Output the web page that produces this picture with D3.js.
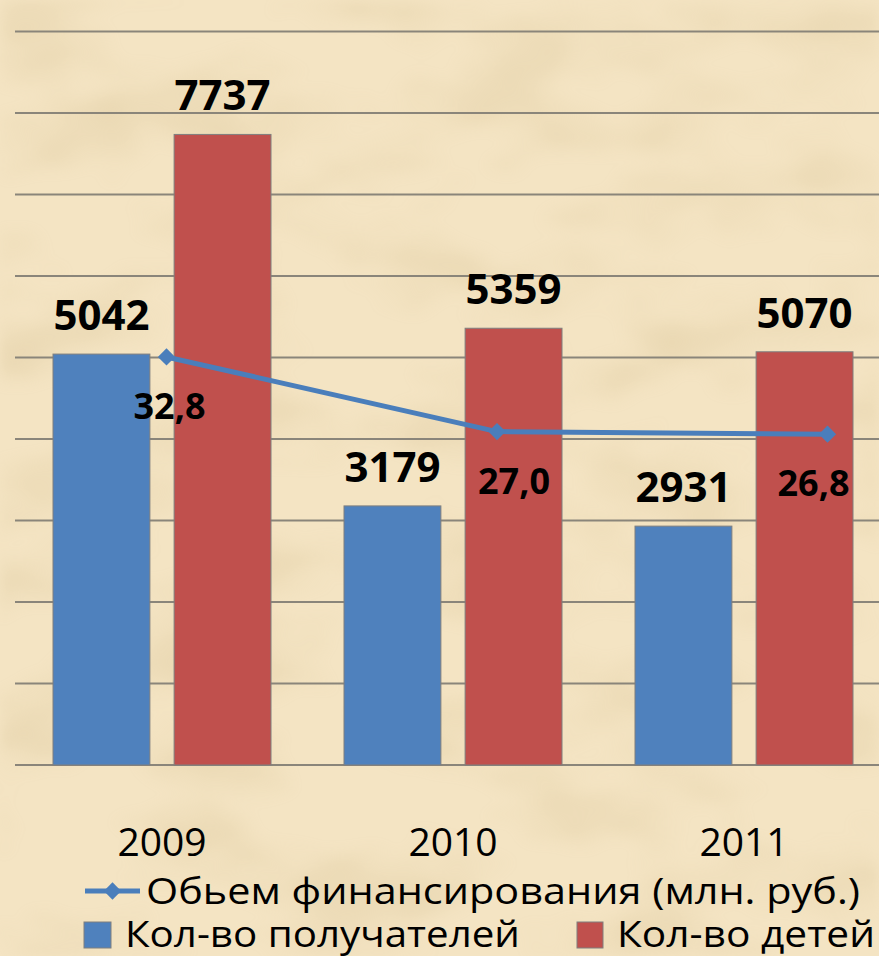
<!DOCTYPE html>
<html>
<head>
<meta charset="utf-8">
<script src="https://cdn.jsdelivr.net/npm/d3@7"></script>
<style>
  html, body { margin: 0; padding: 0; background: #f2e1bf; }
  svg { display: block; }
</style>
</head>
<body>
<svg id="chart" width="879" height="956"></svg>
<script>
// Years on the category axis
const years = ["2009", "2010", "2011"];
// Кол-во получателей (number of recipients)
const recipients = [5042, 3179, 2931];
// Кол-во детей (number of children)
const children = [7737, 5359, 5070];
// Обьем финансирования, млн. руб. (funding volume)
const funding = [32.8, 27.0, 26.8];
const fundingLabels = ["32,8", "27,0", "26,8"];
// Primary axis ticks (gridlines)
const gridTicks = [0, 1000, 2000, 3000, 4000, 5000, 6000, 7000, 8000, 9000];

const seriesNames = {
  funding: "Обьем финансирования (млн. руб.)",
  recipients: "Кол-во получателей",
  children: "Кол-во детей"
};

const W = 879, H = 956;
const BLUE = "#4f81bd", RED = "#c0504d", LINE = "#4a7ebb";
const svg = d3.select("#chart");

// ---- parchment background ----
const defs = svg.append("defs");
const f = defs.append("filter").attr("id", "paper")
  .attr("x", 0).attr("y", 0).attr("width", "100%").attr("height", "100%");
f.append("feTurbulence").attr("type", "fractalNoise")
  .attr("baseFrequency", "0.007 0.013").attr("numOctaves", 3).attr("seed", 11)
  .attr("result", "n");
f.append("feColorMatrix").attr("in", "n").attr("type", "matrix")
  .attr("values", "0 0 0 0 0.66  0 0 0 0 0.52  0 0 0 0 0.28  1.5 0 0 0 -0.66")
  .attr("result", "c");
f.append("feGaussianBlur").attr("in", "c").attr("stdDeviation", 6);

svg.append("rect").attr("width", W).attr("height", H).attr("fill", "#f4e4c3");
svg.append("rect").attr("width", W).attr("height", H).attr("filter", "url(#paper)")
  .attr("opacity", 0.5);

// ---- scales ----
const x = d3.scaleBand().domain(years).range([16.5, 889.5]);
const xInner = d3.scaleBand().domain([0, 1])
  .range([36.5, x.bandwidth() - 36.5]).paddingInner(0.2);
const y = d3.scaleLinear().domain([0, 9000]).range([765, 31.5]);

// secondary axis for the funding line
const x2 = d3.scalePoint().domain(years).range([166.5, 827.5]);
const y2 = d3.scaleLinear().domain([0, 60]).range([779.1, 6.9]);

// ---- gridlines ----
svg.append("g").selectAll("line").data(gridTicks).join("line")
  .attr("x1", 15).attr("x2", W)
  .attr("y1", d => y(d)).attr("y2", d => y(d))
  .attr("stroke", "#8a857a").attr("stroke-width", 2);

// ---- bars ----
const bars = [
  { key: "recipients", values: recipients, color: BLUE, idx: 0 },
  { key: "children", values: children, color: RED, idx: 1 }
];
const gBars = svg.append("g");
bars.forEach(s => {
  gBars.selectAll(null).data(years).join("rect")
    .attr("x", (d) => x(d) + xInner(s.idx))
    .attr("width", xInner.bandwidth())
    .attr("y", (d, i) => y(s.values[i]))
    .attr("height", (d, i) => y(0) - y(s.values[i]))
    .attr("fill", s.color)
    .attr("stroke", "#7f7f7f").attr("stroke-width", 1);
  gBars.selectAll(null).data(years).join("text")
    .attr("x", d => x(d) + xInner(s.idx) + xInner.bandwidth() / 2)
    .attr("y", (d, i) => y(s.values[i]) - 24)
    .attr("text-anchor", "middle")
    .attr("font-family", "'Open Sans', sans-serif")
    .attr("font-weight", 700).attr("font-size", 42).attr("fill", "#000")
    .text((d, i) => s.values[i]);
});

// ---- funding line ----
const lineGen = d3.line().x((d, i) => x2(years[i])).y(d => y2(d));
svg.append("path").datum(funding)
  .attr("d", lineGen).attr("fill", "none")
  .attr("stroke", LINE).attr("stroke-width", 5).attr("stroke-linejoin", "round");

const diamond = d3.symbol().type(d3.symbolDiamond2).size(190);
svg.append("g").selectAll("path").data(funding).join("path")
  .attr("d", diamond)
  .attr("transform", (d, i) => `translate(${x2(years[i])},${y2(d)})`)
  .attr("fill", LINE);

const labelNudge = [3, 17, -14];
svg.append("g").selectAll("text").data(funding).join("text")
  .attr("x", (d, i) => x2(years[i]) + labelNudge[i])
  .attr("y", d => y2(d) + 62)
  .attr("text-anchor", "middle")
  .attr("font-family", "'Open Sans', sans-serif")
  .attr("font-weight", 700).attr("font-size", 36).attr("fill", "#000")
  .text((d, i) => fundingLabels[i]);

// ---- category axis labels ----
svg.append("g").selectAll("text").data(years).join("text")
  .attr("x", d => x(d) + x.bandwidth() / 2)
  .attr("y", 856)
  .attr("text-anchor", "middle")
  .attr("font-family", "'Open Sans', sans-serif")
  .attr("font-size", 39).attr("fill", "#000")
  .text(d => d);

// ---- legend ----
const lg = svg.append("g")
  .attr("font-family", "'Open Sans', sans-serif").attr("font-size", 37).attr("fill", "#000");
lg.append("line").attr("x1", 85).attr("x2", 140).attr("y1", 891).attr("y2", 891)
  .attr("stroke", LINE).attr("stroke-width", 5);
lg.append("path").attr("d", diamond).attr("transform", "translate(112.5,891)").attr("fill", LINE);
lg.append("text").attr("x", 146).attr("y", 904).text(seriesNames.funding)
  .attr("textLength", 714).attr("lengthAdjust", "spacingAndGlyphs");

lg.append("rect").attr("x", 84).attr("y", 922).attr("width", 27).attr("height", 26)
  .attr("fill", BLUE).attr("stroke", "#7f7f7f").attr("stroke-width", 1);
lg.append("text").attr("x", 125).attr("y", 947).text(seriesNames.recipients)
  .attr("textLength", 395).attr("lengthAdjust", "spacingAndGlyphs");
lg.append("rect").attr("x", 577).attr("y", 922).attr("width", 26).attr("height", 26)
  .attr("fill", RED).attr("stroke", "#7f7f7f").attr("stroke-width", 1);
lg.append("text").attr("x", 617).attr("y", 947).text(seriesNames.children)
  .attr("textLength", 258).attr("lengthAdjust", "spacingAndGlyphs");
</script>
</body>
</html>
